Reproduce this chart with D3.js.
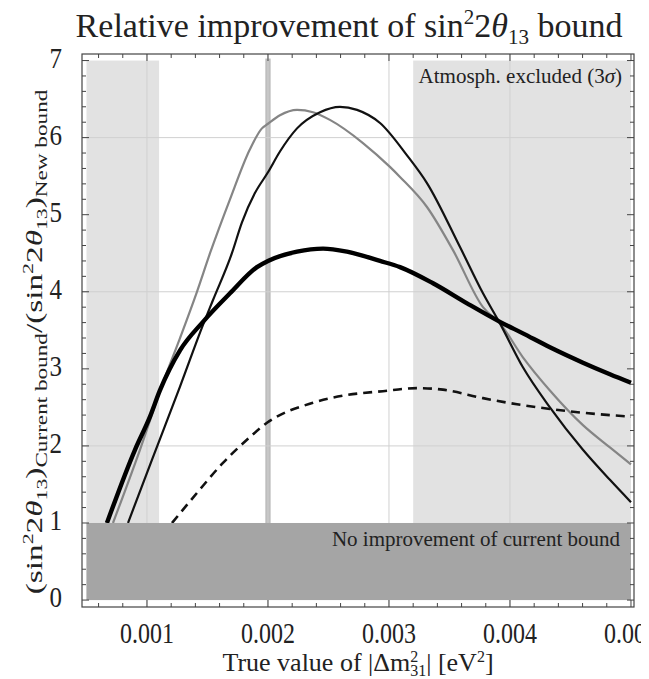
<!DOCTYPE html>
<html>
<head>
<meta charset="utf-8">
<script src="https://cdn.jsdelivr.net/npm/d3@7"></script>
<style>
  html, body { margin: 0; padding: 0; background: #fff; overflow: hidden; }
  svg { display: block; }
  text { font-family: "Liberation Serif", "Times New Roman", serif; fill: #222; }
</style>
</head>
<body>
<svg id="chart" width="649" height="679"></svg>
<script>
// ---- data: true |Δm²31| (eV²) and ratio of current to new sin²2θ13 bound ----
const thickX = [0.000669, 0.000901, 0.001025, 0.001107, 0.001273, 0.001463, 0.001686, 0.001909, 0.002000,
                0.002240, 0.002455, 0.002653, 0.002926, 0.003091, 0.003364, 0.003645, 0.003917, 0.004107,
                0.004330, 0.004603, 0.004826, 0.005000];
const thickY = [1.00, 1.95, 2.38, 2.72, 3.24, 3.61, 3.98, 4.32, 4.40,
                4.52, 4.56, 4.52, 4.40, 4.32, 4.11, 3.85, 3.61, 3.46,
                3.28, 3.08, 2.93, 2.82];

const blackX = [0.000843, 0.001041, 0.001149, 0.001273, 0.001463, 0.001545, 0.001702, 0.001785, 0.001892,
                0.002000, 0.002099, 0.002240, 0.002430, 0.002595, 0.002736, 0.002926, 0.003149, 0.003314,
                0.003587, 0.003777, 0.003917, 0.004107, 0.004330, 0.004603, 0.004826, 0.005000];
const blackY = [1.00, 1.82, 2.26, 2.77, 3.57, 3.89, 4.50, 4.90, 5.28,
                5.55, 5.82, 6.12, 6.33, 6.40, 6.36, 6.19, 5.77, 5.41,
                4.58, 3.98, 3.59, 3.02, 2.50, 1.95, 1.56, 1.27];

const grayX = [0.000719, 0.000942, 0.001132, 0.001273, 0.001413, 0.001521, 0.001686, 0.001851, 0.001950,
               0.002000, 0.002099, 0.002240, 0.002372, 0.002512, 0.002785, 0.003008, 0.003091, 0.003314,
               0.003529, 0.003777, 0.003917, 0.004107, 0.004330, 0.004603, 0.004826, 0.005000];
const grayY = [1.00, 1.95, 2.82, 3.40, 4.00, 4.50, 5.20, 5.85, 6.12,
               6.18, 6.29, 6.36, 6.33, 6.23, 5.93, 5.62, 5.49, 5.10,
               4.54, 3.80, 3.59, 3.15, 2.72, 2.27, 1.98, 1.76];

const dashX = [0.001207, 0.001413, 0.001628, 0.001826, 0.001992, 0.002372, 0.002653, 0.002950, 0.003231,
               0.003446, 0.003777, 0.004058, 0.004330, 0.004603, 0.005000];
const dashY = [1.00, 1.39, 1.78, 2.08, 2.30, 2.56, 2.66, 2.71, 2.75,
               2.73, 2.62, 2.54, 2.48, 2.43, 2.38];

// tick values
const xTicks = [0.001, 0.002, 0.003, 0.004, 0.005];
const yTicks = [0, 1, 2, 3, 4, 5, 6, 7];
const xGrid = [0.001, 0.002, 0.003, 0.004];
const yGrid = [2, 4, 6];

// shaded ranges
const lowDmRange = [0.0005, 0.0011];
const atmExcludedRange = [0.0032, 0.005];
const bestFitDm = 0.002;
const noImprovementLevel = 1;

// ---- layout ----
const svg = d3.select("#chart");
const frame = { left: 82, right: 634, top: 54, bottom: 607 };
const x = d3.scaleLinear().domain([0.000463, 0.005025]).range([frame.left, frame.right]);
const y = d3.scaleLinear().domain([-0.09, 7.085]).range([frame.bottom, frame.top]);

const defs = svg.append("defs");
defs.append("clipPath").attr("id", "plotClip").append("rect")
  .attr("x", frame.left).attr("y", frame.top)
  .attr("width", frame.right - frame.left).attr("height", frame.bottom - frame.top);
defs.append("clipPath").attr("id", "labelClip").append("rect")
  .attr("x", 0).attr("y", 0).attr("width", 641).attr("height", 679);

const plot = svg.append("g").attr("clip-path", "url(#plotClip)");

// light shaded exclusion regions
[lowDmRange, atmExcludedRange].forEach(r => {
  plot.append("rect")
    .attr("x", x(r[0])).attr("y", y(7))
    .attr("width", x(r[1]) - x(r[0])).attr("height", y(0) - y(7))
    .attr("fill", "#e2e2e2");
});

// best-fit marker bar
plot.append("rect")
  .attr("x", x(bestFitDm - 0.000022)).attr("y", y(7) - 2)
  .attr("width", x(bestFitDm + 0.000022) - x(bestFitDm - 0.000022))
  .attr("height", y(noImprovementLevel) - y(7) + 2)
  .attr("fill", "#bebebe");

// grid lines
plot.selectAll(".vgrid").data(xGrid).join("line")
  .attr("x1", d => x(d)).attr("x2", d => x(d))
  .attr("y1", frame.top).attr("y2", frame.bottom)
  .attr("stroke", "#d0d0d0").attr("stroke-width", 1);
plot.selectAll(".hgrid").data(yGrid).join("line")
  .attr("x1", frame.left).attr("x2", frame.right)
  .attr("y1", d => y(d)).attr("y2", d => y(d))
  .attr("stroke", "#d0d0d0").attr("stroke-width", 1);

// curves
const line = d3.line().x(d => x(d[0])).y(d => y(d[1])).curve(d3.curveMonotoneX);
const series = [
  { xs: grayX, ys: grayY, color: "#858585", width: 2.2, dash: null },
  { xs: blackX, ys: blackY, color: "#111", width: 2.2, dash: null },
  { xs: dashX, ys: dashY, color: "#111", width: 2.6, dash: "9,6" },
  { xs: thickX, ys: thickY, color: "#000", width: 4.4, dash: null }
];
series.forEach(s => {
  plot.append("path")
    .datum(d3.zip(s.xs, s.ys))
    .attr("d", line)
    .attr("fill", "none")
    .attr("stroke", s.color)
    .attr("stroke-width", s.width)
    .attr("stroke-dasharray", s.dash)
    .attr("stroke-linejoin", "round");
});

// "no improvement" band
plot.append("rect")
  .attr("x", x(lowDmRange[0])).attr("y", y(noImprovementLevel))
  .attr("width", x(atmExcludedRange[1]) - x(lowDmRange[0]))
  .attr("height", y(0) - y(noImprovementLevel))
  .attr("fill", "#a5a5a5");

// annotations
const atm = svg.append("text").attr("x", 622).attr("y", 83).attr("text-anchor", "end")
  .style("font-size", "21px");
atm.append("tspan").text("Atmosph. excluded (3");
atm.append("tspan").style("font-style", "italic").text("σ");
atm.append("tspan").text(")");

svg.append("text").attr("x", 620).attr("y", 546).attr("text-anchor", "end")
  .style("font-size", "21px")
  .text("No improvement of current bound");

// frame and ticks
svg.append("rect")
  .attr("x", frame.left).attr("y", frame.top)
  .attr("width", frame.right - frame.left).attr("height", frame.bottom - frame.top)
  .attr("fill", "none").attr("stroke", "#444").attr("stroke-width", 1.2);

const xMinor = d3.range(0.0006, 0.00501, 0.0002);
const yMinor = d3.range(0, 7.001, 0.2);
const tickG = svg.append("g").attr("stroke", "#444").attr("stroke-width", 1);
xMinor.forEach(v => {
  const major = xTicks.some(t => Math.abs(t - v) < 1e-9);
  const L = major ? 7 : 4;
  tickG.append("line").attr("x1", x(v)).attr("x2", x(v)).attr("y1", frame.bottom).attr("y2", frame.bottom - L);
  tickG.append("line").attr("x1", x(v)).attr("x2", x(v)).attr("y1", frame.top).attr("y2", frame.top + L);
});
yMinor.forEach(v => {
  const major = Math.abs(v - Math.round(v)) < 1e-9;
  const L = major ? 7 : 4;
  tickG.append("line").attr("y1", y(v)).attr("y2", y(v)).attr("x1", frame.left).attr("x2", frame.left + L);
  tickG.append("line").attr("y1", y(v)).attr("y2", y(v)).attr("x1", frame.right).attr("x2", frame.right - L);
});

// tick labels (slightly tall digits)
const fmtX = d3.format(".3f");
svg.append("g").attr("clip-path", "url(#labelClip)")
  .selectAll("text").data(xTicks).join("text")
  .attr("transform", d => `translate(${x(d)},643) scale(1,1.2)`)
  .attr("text-anchor", "middle")
  .style("font-size", "24px").text(d => fmtX(d));
svg.append("g").selectAll("text").data(yTicks).join("text")
  .attr("transform", d => `translate(62,${y(d) + 7}) scale(1,1.2)`)
  .attr("text-anchor", "end")
  .style("font-size", "25px").text(d => d);

// rich text helper: parts with own size and baseline shift
function rich(sel, fontSize, parts) {
  let cur = 0;
  parts.forEach(p => {
    const shift = p.shift || 0;
    const ts = sel.append("tspan")
      .attr("dy", shift - cur)
      .style("font-size", (p.size ? p.size : fontSize) + "px")
      .text(p.t);
    if (p.dx) ts.attr("dx", p.dx);
    if (p.italic) ts.style("font-style", "italic");
    cur = shift;
  });
}

// title
const title = svg.append("text").attr("x", 349).attr("y", 37).attr("text-anchor", "middle");
rich(title, 34, [
  { t: "Relative improvement of sin" },
  { t: "2", size: 21, shift: -13 },
  { t: "2" },
  { t: "θ", italic: true },
  { t: "13", size: 21, shift: 7 },
  { t: " bound" }
]);

// y-axis label, stretched along its length to span the frame
const yl = svg.append("text").attr("text-anchor", "middle");
rich(yl, 23, [
  { t: "(sin" },
  { t: "2", size: 15, shift: -9 },
  { t: "2" },
  { t: "θ", italic: true },
  { t: "13", size: 15, shift: 5 },
  { t: ")" },
  { t: "Current bound", size: 16, shift: 5 },
  { t: "/(sin" },
  { t: "2", size: 15, shift: -9 },
  { t: "2" },
  { t: "θ", italic: true },
  { t: "13", size: 15, shift: 5 },
  { t: ")" },
  { t: "New bound", size: 16, shift: 5 }
]);
const ylLen = yl.node().getBBox().width;
const ylK = 505 / ylLen;
yl.attr("transform", `translate(42,342) rotate(-90) scale(${ylK},1)`);

// x-axis label
const xl = svg.append("text").attr("x", 358).attr("y", 671).attr("text-anchor", "middle");
rich(xl, 26, [
  { t: "True value of |Δm" },
  { t: "2", size: 16, shift: -9 },
  { t: "31", size: 16, shift: 5, dx: -8 },
  { t: "| [eV" },
  { t: "2", size: 16, shift: -9 },
  { t: "]" }
]);
</script>
</body>
</html>
